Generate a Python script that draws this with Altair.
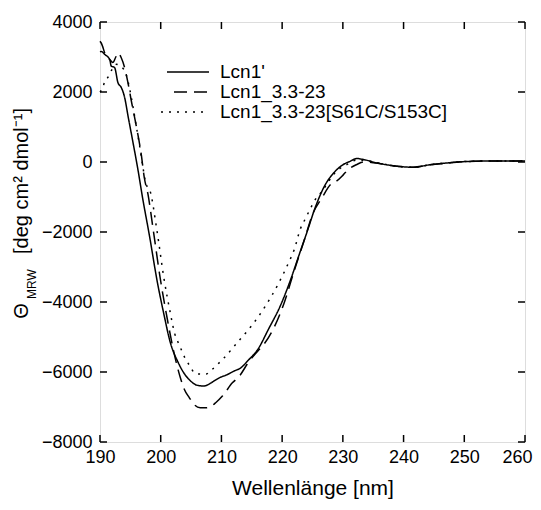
import altair as alt
import pandas as pd

SERIES = ["Lcn1'", "Lcn1_3.3-23", "Lcn1_3.3-23[S61C/S153C]"]

# Lcn1'
x_solid = [190.0, 190.2, 190.8, 191.6, 191.85, 192.4, 192.95, 193.5, 194.05, 194.6,
           195.4, 196.2, 197.0, 198.2, 199.4, 200.5, 201.6, 202.8, 203.9, 205.0,
           206.0, 207.0, 207.7, 208.2, 209.5, 211.0, 212.0, 213.2, 214.5, 215.9,
           217.8, 219.7, 221.4, 222.7, 224.1, 225.45, 227.0, 228.5, 230.0, 231.2,
           232.3, 233.4, 235.6, 238.9, 241.6, 244.3, 247.0, 249.8, 255.2, 260.0]
y_solid = [3150, 3160, 3070, 2930, 2740, 2700, 2270, 2130, 1850, 1330,
           590, -170, -1010, -2160, -3390, -4330, -5170, -5700, -6050, -6270,
           -6380, -6400, -6370, -6320, -6180, -6070, -5980, -5880, -5650, -5380,
           -4760, -4110, -3360, -2700, -2000, -1300, -680, -310, -80, 20,
           100, 70, -25, -120, -150, -80, -30, 10, 30, 30]

# Lcn1_3.3-23
x_dash = [190.0, 190.2, 191.0, 191.6, 192.1, 192.6, 192.95, 193.5, 194.05, 194.6,
          195.1, 195.95, 196.8, 197.3, 197.9, 198.8, 199.9, 201.1, 202.2, 203.3,
          203.9, 204.7, 205.5, 206.5, 207.5, 208.3, 209.1, 210.2, 211.8, 212.9,
          214.5, 216.0, 216.9, 218.6, 220.3, 222.0, 223.7, 225.0, 226.6, 228.0,
          229.0, 230.1, 231.0, 232.3, 233.4, 235.0, 238.9, 241.6, 244.3, 247.0,
          249.8, 255.2, 260.0]
y_dash = [3450, 3400, 3020, 2930, 2840, 3000, 3120, 2980, 2700, 2270,
          1800, 1050, 210, -450, -920, -1980, -3300, -4500, -5460, -6200,
          -6500, -6730, -6930, -7020, -7020, -6980, -6870, -6680, -6310, -6130,
          -5710, -5400, -5230, -4750, -4040, -3100, -2200, -1500, -1010, -640,
          -540, -360, -200, -70, 0, -20, -120, -150, -80, -30,
          10, 30, 30]

# Lcn1_3.3-23[S61C/S153C]
x_dot = [190.0, 190.5, 190.8, 191.3, 192.0, 192.7, 193.4, 194.3, 194.9, 195.4,
         195.95, 196.5, 197.0, 197.6, 198.2, 199.4, 200.5, 201.6, 202.3, 203.1,
         204.0, 204.7, 205.8, 207.4, 208.5, 210.4, 212.9, 215.1, 217.3, 219.4,
         221.0, 222.0, 223.0, 223.8, 224.6, 225.5, 226.6, 227.7, 228.7, 230.7,
         232.2, 233.4, 235.6, 238.9, 241.6, 244.3, 247.0, 249.8, 255.2, 260.0]
y_dot = [2000, 2140, 2320, 2420, 2650, 2790, 2740, 2500, 2080, 1610,
         1050, 490, -70, -640, -800, -1980, -3290, -4330, -4900, -5240,
         -5600, -5800, -6050, -6060, -5920, -5600, -5100, -4650, -4100, -3470,
         -2900, -2500, -1910, -1630, -1350, -1060, -830, -540, -310, -70,
         50, 50, -20, -120, -150, -80, -30, 10, 30, 30]

X_TICKS = [190, 200, 210, 220, 230, 240, 250, 260]
Y_TICKS = [-8000, -6000, -4000, -2000, 0, 2000, 4000]

W, H = 425, 420
FONT = "Liberation Sans"
TL = 7  # inward tick length

frames = []
for name, xs, ys in [(SERIES[0], x_solid, y_solid), (SERIES[1], x_dash, y_dash), (SERIES[2], x_dot, y_dot)]:
    frames.append(pd.DataFrame({"nm": xs, "val": ys, "series": name, "order": range(len(xs))}))
df = pd.concat(frames, ignore_index=True)

xscale = alt.Scale(domain=[190, 260], nice=False, zero=False)
yscale = alt.Scale(domain=[-8000, 4000], nice=False, zero=False)

lines = alt.Chart(df).mark_line(color="black", strokeWidth=1.5, interpolate="monotone").encode(
    x=alt.X("nm:Q", scale=xscale,
            axis=alt.Axis(values=X_TICKS, format="d", title="Wellenlänge [nm]", ticks=False, domain=False,
                          grid=False, labelFontSize=18, labelFont=FONT, labelColor="black",
                          labelPadding=6, labelOffset=alt.expr("datum.value == 260 ? -8 : 0"),
                          titleFontSize=21, titleFont=FONT, titleColor="black",
                          titleFontWeight="normal", titlePadding=11, labelFlush=False)),
    y=alt.Y("val:Q", scale=yscale,
            axis=alt.Axis(values=Y_TICKS, format="d", title=None, ticks=False, domain=False, grid=False,
                          labelFontSize=18, labelFont=FONT, labelColor="black", labelPadding=8,
                          labelFlush=False)),
    strokeDash=alt.StrokeDash("series:N", scale=alt.Scale(domain=SERIES, range=[[1, 0], [13, 7], [2, 6]]),
                              legend=None),
    detail="series:N",
    order="order:Q",
)

xt = pd.DataFrame({"nm": X_TICKS})
yt = pd.DataFrame({"val": Y_TICKS})
tick_bottom = alt.Chart(xt).mark_rule(color="black", strokeWidth=1.5).encode(
    x=alt.X("nm:Q", scale=xscale), y=alt.value(H), y2=alt.value(H - TL))
tick_top = alt.Chart(xt).mark_rule(color="black", strokeWidth=1.5).encode(
    x=alt.X("nm:Q", scale=xscale), y=alt.value(0), y2=alt.value(TL))
tick_left = alt.Chart(yt).mark_rule(color="black", strokeWidth=1.5).encode(
    y=alt.Y("val:Q", scale=yscale), x=alt.value(0), x2=alt.value(TL))
tick_right = alt.Chart(yt).mark_rule(color="black", strokeWidth=1.5).encode(
    y=alt.Y("val:Q", scale=yscale), x=alt.value(W - TL), x2=alt.value(W))

one = alt.Data(values=[{}])
leg = []
leg_rows = [(SERIES[0], [1, 0], 67, 109, 50), (SERIES[1], [13, 7], 74, 109, 70), (SERIES[2], [2, 6], 61, 107, 90)]
for name, dash, x1, x2, yy in leg_rows:
    leg.append(alt.Chart(one).mark_rule(color="black", strokeWidth=1.5, strokeDash=dash).encode(
        x=alt.value(x1), x2=alt.value(x2), y=alt.value(yy)))
    leg.append(alt.Chart(one).mark_text(text=name, align="left", baseline="middle", fontSize=19,
                                        font=FONT, color="black").encode(
        x=alt.value(120), y=alt.value(yy)))

ytitle = [
    alt.Chart(one).mark_text(text="Θ", angle=270, align="center", baseline="middle", fontSize=20,
                             font=FONT, color="black").encode(x=alt.value(-78), y=alt.value(289)),
    alt.Chart(one).mark_text(text="MRW", angle=270, align="center", baseline="middle", fontSize=12,
                             font=FONT, color="black").encode(x=alt.value(-68), y=alt.value(262)),
    alt.Chart(one).mark_text(text="[deg cm² dmol⁻¹]", angle=270, align="center", baseline="middle",
                             fontSize=20, font=FONT, color="black").encode(x=alt.value(-78), y=alt.value(159)),
]

chart = alt.layer(lines, tick_bottom, tick_top, tick_left, tick_right, *leg, *ytitle).properties(
    width=W, height=H,
    autosize=alt.AutoSizeParams(type="none"),
    padding={"left": 92, "top": 14, "right": 8, "bottom": 60},
).configure_view(stroke="black", strokeWidth=2).configure(background="white")

chart.save("out.html", embed_options={"renderer": "svg", "actions": False})
